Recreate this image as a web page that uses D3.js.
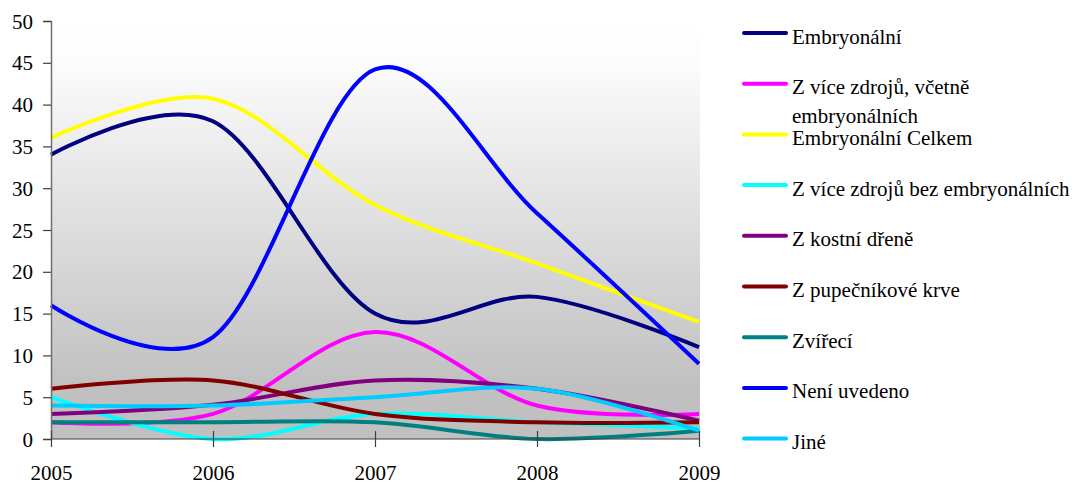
<!DOCTYPE html>
<html>
<head>
<meta charset="utf-8">
<script src="https://cdn.jsdelivr.net/npm/d3@7"></script>
<style>
  html, body { margin: 0; padding: 0; background: #fff; }
  svg { display: block; }
  svg text { font-family: "Liberation Serif", Tinos, "Times New Roman", Times, serif; }
</style>
</head>
<body>
<svg id="chart" width="1083" height="485"></svg>
<script>
// Years on the x axis
const years = [2005, 2006, 2007, 2008, 2009];
const yTicks = [0, 5, 10, 15, 20, 25, 30, 35, 40, 45, 50];

// Series values per year
const embryonalni        = [34, 38, 15, 17, 11];
const viceZdrojuVcetne   = [2, 3, 12.8, 4, 3];
const embryonalniCelkem  = [36, 40.7, 28, 21, 14];
const viceZdrojuBez      = [5, 0, 3, 2, 1.3];
const kostniDren         = [3, 4.1, 7, 6, 2.2];
const pupecnikovaKrev    = [6, 7, 3, 2, 2];
const zvireci            = [2, 2, 2, 0, 1];
const neniUvedeno        = [16, 12.2, 44.2, 27, 9];
const jine               = [4, 4, 5, 6, 1];

const series = [
  { name: "Embryonální",                          values: embryonalni,       color: "#000080" },
  { name: "Z více zdrojů, včetně\nembryonálních", values: viceZdrojuVcetne,  color: "#FF00FF" },
  { name: "Embryonální Celkem",                   values: embryonalniCelkem, color: "#FFFF00" },
  { name: "Z více zdrojů bez embryonálních",      values: viceZdrojuBez,     color: "#00FFFF" },
  { name: "Z kostní dřeně",                       values: kostniDren,        color: "#800080" },
  { name: "Z pupečníkové krve",                   values: pupecnikovaKrev,   color: "#800000" },
  { name: "Zvířecí",                              values: zvireci,           color: "#008080" },
  { name: "Není uvedeno",                         values: neniUvedeno,       color: "#0000FF" },
  { name: "Jiné",                                 values: jine,              color: "#00CCFF" }
];

const svg = d3.select("#chart");
const plot = { left: 51, right: 699, top: 21, bottom: 439 };

const x = d3.scaleLinear().domain([2005, 2009]).range([plot.left, plot.right]);
const y = d3.scaleLinear().domain([0, 50]).range([plot.bottom, plot.top]);

// Plot background: white fading to grey
const defs = svg.append("defs");
const grad = defs.append("linearGradient")
  .attr("id", "bg").attr("x1", 0).attr("y1", 0).attr("x2", 0).attr("y2", 1);
grad.append("stop").attr("offset", "0%").attr("stop-color", "#ffffff");
grad.append("stop").attr("offset", "10%").attr("stop-color", "#fcfcfc");
grad.append("stop").attr("offset", "88%").attr("stop-color", "#c0c0c0");
grad.append("stop").attr("offset", "100%").attr("stop-color", "#c0c0c0");

svg.append("rect")
  .attr("x", plot.left).attr("y", plot.top)
  .attr("width", x(2009) - plot.left + 1).attr("height", plot.bottom - plot.top)
  .attr("fill", "url(#bg)");

// Smoothed lines
const line = d3.line()
  .x((d, i) => x(years[i]))
  .y(d => y(d))
  .curve(d3.curveCardinal.tension(0));

svg.append("g").selectAll("path")
  .data(series)
  .join("path")
  .attr("d", d => line(d.values))
  .attr("fill", "none")
  .attr("stroke", d => d.color)
  .attr("stroke-width", 4)
  .attr("stroke-linejoin", "round");

// Y axis
const yAxis = d3.axisLeft(y).tickValues(yTicks).tickSize(8).tickPadding(10)
  .tickFormat(d3.format("d"));
const gy = svg.append("g").attr("transform", `translate(${plot.left},0)`).call(yAxis)
  .attr("font-family", null).attr("font-size", 21);
gy.select(".domain").attr("stroke", "#707070").attr("stroke-width", 1.5);
gy.selectAll(".tick line").attr("stroke", "#404040").attr("stroke-width", 1.2);
gy.selectAll(".tick text").attr("fill", "#000").attr("dy", "0.34em");

// X axis: ticks cross the axis line
const xAxis = d3.axisBottom(x).tickValues(years).tickSize(8).tickPadding(18)
  .tickFormat(d3.format("d"));
const gx = svg.append("g").attr("transform", `translate(0,${plot.bottom})`).call(xAxis)
  .attr("font-family", null).attr("font-size", 21);
gx.select(".domain").attr("d", `M${plot.left},0H${plot.right}`).attr("stroke", "#404040").attr("stroke-width", 1.2);
gx.selectAll(".tick line").attr("y1", -8).attr("y2", 8).attr("stroke", "#404040").attr("stroke-width", 1.2);
gx.selectAll(".tick text").attr("fill", "#000");

// Legend
const legendTop = 33, legendStep = 50.7;
const lg = svg.append("g").attr("font-size", 21);
series.forEach((s, i) => {
  const ly = legendTop + i * legendStep;
  lg.append("line")
    .attr("x1", 744).attr("x2", 786).attr("y1", ly).attr("y2", ly)
    .attr("stroke", s.color).attr("stroke-width", 4).attr("stroke-linecap", "round");
  const lines = s.name.split("\n");
  const t = lg.append("text").attr("x", 792).attr("y", ly + 10.5).attr("fill", "#000");
  lines.forEach((l, j) => {
    t.append("tspan").attr("x", 792).attr("dy", j === 0 ? 0 : 28.5).text(l);
  });
});
</script>
</body>
</html>
